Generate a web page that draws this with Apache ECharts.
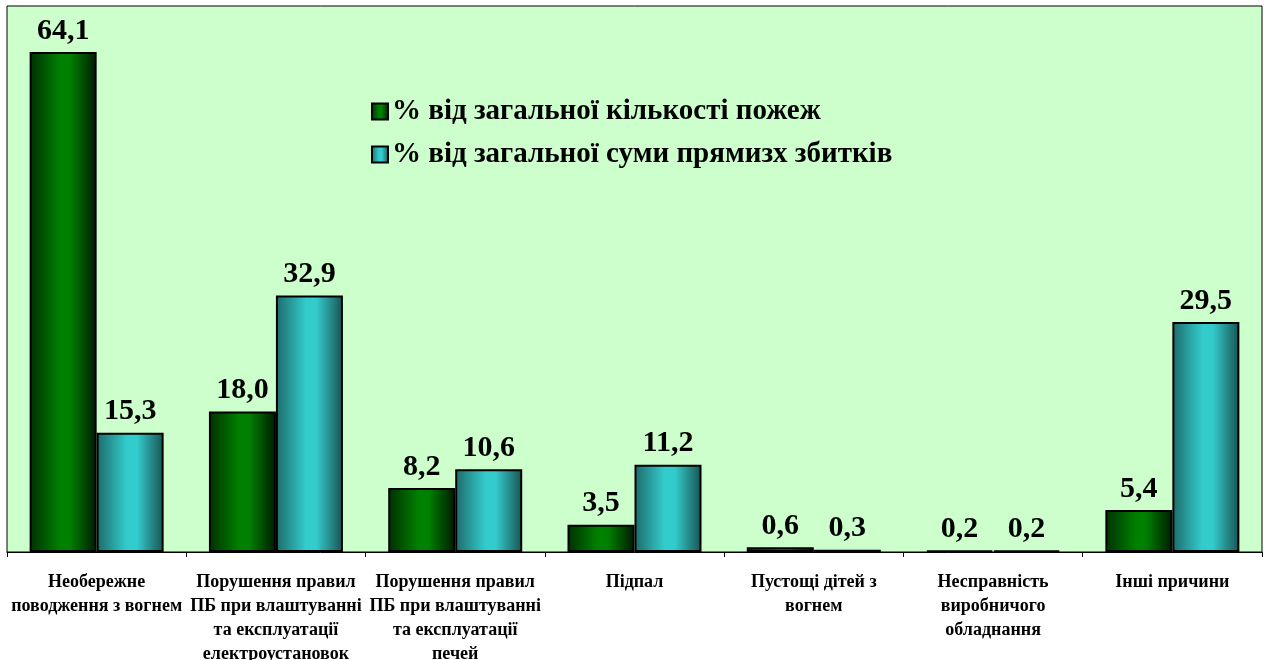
<!DOCTYPE html>
<html><head><meta charset="utf-8">
<script src="https://cdn.jsdelivr.net/npm/echarts@6/dist/echarts.min.js"></script>
<style>html,body{margin:0;padding:0;background:#fff}#c{width:1264px;height:660px}</style>
</head><body><div id="c"></div>
<script>
const categories = [
  'Необережне\nповодження з вогнем',
  'Порушення правил\nПБ при влаштуванні\nта експлуатації\nелектроустановок',
  'Порушення правил\nПБ при влаштуванні\nта експлуатації\nпечей',
  'Підпал',
  'Пустощі дітей з\nвогнем',
  'Несправність\nвиробничого\nобладнання',
  'Інші причини'
];
const seriesNames = ['% від загальної кількості пожеж', '% від загальної суми прямизх збитків'];
const firesPct = [64.1, 18.0, 8.2, 3.5, 0.6, 0.2, 5.4];
const lossPct = [15.3, 32.9, 10.6, 11.2, 0.3, 0.2, 29.5];

const font = '"Liberation Serif"';
function grad(edgeL, mid, edgeR) {
  return new echarts.graphic.LinearGradient(0, 0, 1, 0, [
    {offset: 0, color: edgeL}, {offset: 0.45, color: mid}, {offset: 0.6, color: mid}, {offset: 1, color: edgeR}
  ]);
}
const greenGrad = grad('#003000', '#008000', '#001a00');
const cyanGrad = grad('#1e6a6a', '#33cccc', '#1a5252');
const labelCfg = {
  show: true, position: 'top', distance: 6,
  fontFamily: font, fontWeight: 'bold', fontSize: 30, color: '#000',
  formatter: p => p.value.toFixed(1).replace('.', ',')
};
const chart = echarts.init(document.getElementById('c'));
chart.setOption({
  backgroundColor: '#fff',
  animation: false,
  grid: {left: 7, right: 2, top: 6, bottom: 108, outerBoundsMode: 'none', containLabel: false,
         show: true, backgroundColor: '#ccffcc', borderColor: '#000', borderWidth: 1},
  legend: {
    orient: 'vertical', left: 366, top: 92, itemWidth: 16, itemHeight: 16, itemGap: 14,
    icon: 'rect',
    textStyle: {fontFamily: font, fontWeight: 'bold', fontSize: 29, color: '#000', padding: [0, 0, 0, -1]},
    data: seriesNames
  },
  xAxis: {
    type: 'category', data: categories,
    axisLine: {lineStyle: {color: '#000', width: 1}},
    axisTick: {show: true, length: 5, lineStyle: {color: '#000'}},
    axisLabel: {interval: 0, margin: 18, fontFamily: font, fontWeight: 'bold', fontSize: 18, lineHeight: 24, color: '#000'}
  },
  yAxis: {
    type: 'value', min: 0, max: 70, show: false, splitLine: {show: false}
  },
  series: [
    {name: seriesNames[0], type: 'bar', data: firesPct, barWidth: 67, barGap: '0%',
     itemStyle: {color: greenGrad, borderColor: '#000', borderWidth: 2}, label: labelCfg},
    {name: seriesNames[1], type: 'bar', data: lossPct, barWidth: 67,
     itemStyle: {color: cyanGrad, borderColor: '#000', borderWidth: 2}, label: labelCfg}
  ]
});
</script></body></html>
